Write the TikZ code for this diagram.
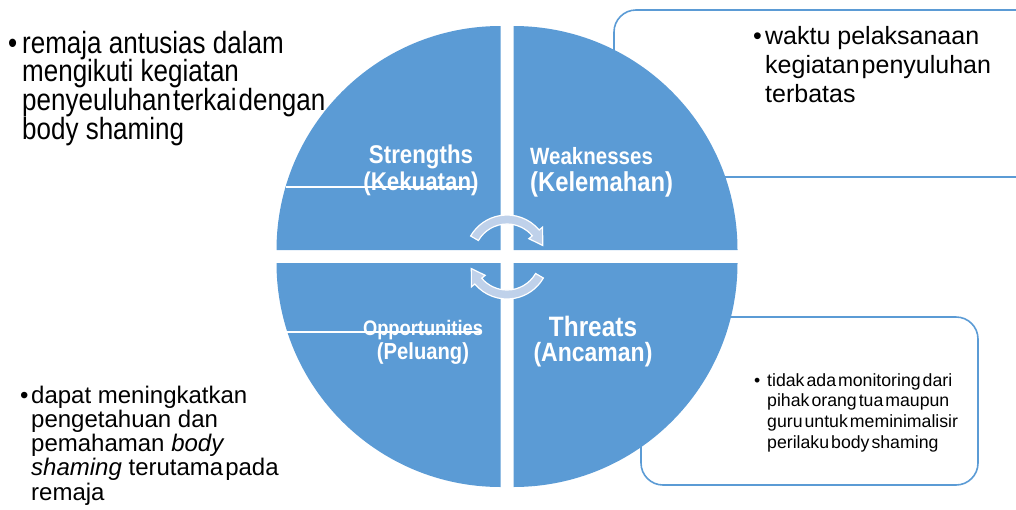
\documentclass[tikz,border=0pt]{standalone}
\usepackage{fontspec}
\setmainfont{Liberation Sans}
\definecolor{swotblue}{HTML}{5B9BD5}
\definecolor{arrowfill}{HTML}{BFD1EA}
\newcommand\tall[2][1.15]{\scalebox{1}[#1]{#2}}
\newcommand\firstln[2]{\hbox{\makebox[#1][l]{•}#2}}
\newcommand\nextln[2]{\hbox{\hspace*{#1}#2}}
\newcommand\tightsp{\spaceskip=2pt plus 1pt\relax}

\begin{document}
\begin{tikzpicture}[x=1pt,y=-1pt,
  quad/.style={fill=swotblue},
  notebox/.style={draw=swotblue,line width=1.6pt,rounded corners=22pt},
  cyclearrow/.style={fill=arrowfill,draw=white,line width=1.2pt},
  head/.style={text=white,font=\bfseries,inner sep=0,anchor=base},
  note/.style={anchor=base west,inner sep=0}]
\useasboundingbox (0,0) rectangle (1016,509);
% boxes behind the circle
\draw[notebox] (614,10) rectangle (1060,177);
\draw[notebox] (641,317) rectangle (978,485);
% four quadrants
\foreach \cx/\cy/\a in {500.5/250/180,513.5/250/270,513.5/263/0,500.5/263/90}
  \fill[quad] (\cx,\cy) -- ++(\a:224) arc[start angle=\a,delta angle=90,radius=224] -- cycle;
\draw[white,line width=1.2pt] (286,187) -- (474,187) (287,332) -- (480,332);
% cycle arrows
\begin{scope}[shift={(507,257)}]
\filldraw[cyclearrow] (210:33) arc[start angle=210,end angle=320,radius=33] -- (320:28.5)
  -- (342:37.5) -- (320:46.5) -- (320:42) arc[start angle=320,end angle=210,radius=42] -- cycle;
\filldraw[cyclearrow] (30:33) arc[start angle=30,end angle=140,radius=33] -- (140:28.5)
  -- (162:37.5) -- (140:46.5) -- (140:42) arc[start angle=140,end angle=30,radius=42] -- cycle;
\end{scope}
% quadrant labels
\node[head] (str) at (421,163) {\tall{\vtop{\fontsize{22.3}{23.9}\selectfont\lineskiplimit=-100pt
  \halign{\hfil#\hfil\cr Strengths\cr (Kekuatan)\cr}}}};
\node[head,anchor=base west] (weak) at (530,164) {\tall{\vtop{\fontsize{23.8}{24.3}\selectfont\lineskiplimit=-100pt
  \halign{#\hfil\cr\fontsize{20.5}{24.3}\selectfont Weaknesses\cr (Kelemahan)\cr}}}};
\node[head] (opp) at (423,335) {\tall{\vtop{\fontsize{20.2}{21.7}\selectfont\lineskiplimit=-100pt
  \halign{\hfil#\hfil\cr\fontsize{18.3}{21.7}\selectfont Opportunities\cr (Peluang)\cr}}}};
\node[head] (thr) at (593,336) {\tall{\vtop{\fontsize{23}{22.6}\selectfont\lineskiplimit=-100pt
  \halign{\hfil#\hfil\cr\fontsize{24.4}{22.6}\selectfont Threats\cr (Ancaman)\cr}}}};
% notes
\node[note] (sNote) at (8,53) {\tall[1.18]{\vtop{\fontsize{26}{24.4}\selectfont\lineskiplimit=-100pt
  \firstln{14pt}{remaja antusias dalam}
  \nextln{14pt}{mengikuti kegiatan}
  \nextln{14pt}{\tightsp penyeuluhan terkai dengan}
  \nextln{14pt}{body shaming}}}};
\node[note] (wNote) at (753,44) {\vtop{\fontsize{25}{29}\selectfont\lineskiplimit=-100pt
  \firstln{12pt}{waktu pelaksanaan}
  \nextln{12pt}{\tightsp kegiatan penyuluhan}
  \nextln{12pt}{terbatas}}};
\node[note] (tNote) at (754,386) {\vtop{\fontsize{17.7}{20.7}\selectfont\tightsp\lineskiplimit=-100pt
  \firstln{13pt}{tidak ada monitoring dari}
  \nextln{13pt}{pihak orang tua maupun}
  \nextln{13pt}{guru untuk meminimalisir}
  \nextln{13pt}{perilaku body shaming}}};
\node[note] (oNote) at (20,403) {\vtop{\fontsize{24}{24.3}\selectfont\lineskiplimit=-100pt
  \firstln{11pt}{dapat meningkatkan}
  \nextln{11pt}{pengetahuan dan}
  \nextln{11pt}{pemahaman \textit{body}}
  \nextln{11pt}{\textit{shaming} {\tightsp terutama pada}}
  \nextln{11pt}{remaja}}};
\end{tikzpicture}
\end{document}
